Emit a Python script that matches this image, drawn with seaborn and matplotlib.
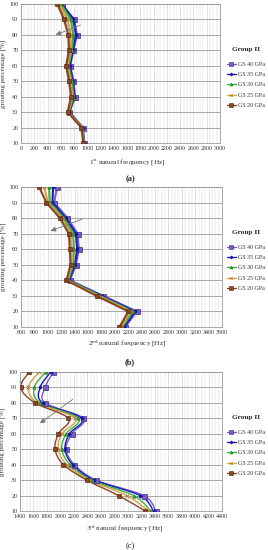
import numpy as np
import pandas as pd
import matplotlib
matplotlib.use("Agg")
import matplotlib.pyplot as plt
import seaborn as sns
from matplotlib.lines import Line2D
from matplotlib.path import Path
from matplotlib.patches import PathPatch

# ---------------- data ----------------
grouting = [100, 90, 80, 70, 60, 50, 40, 30, 20, 10]
series_names = ["GS 40 GPa", "GS 35 GPa", "GS 30 GPa", "GS 25 GPa", "GS 20 GPa"]

f1_gs40 = [614, 800, 840, 790, 740, 790, 815, 730, 930, 955]
f1_gs35 = [610, 790, 830, 780, 735, 780, 805, 725, 928, 952]
f1_gs30 = [600, 750, 790, 765, 715, 765, 790, 718, 922, 948]
f1_gs25 = [575, 700, 750, 745, 700, 745, 772, 710, 916, 944]
f1_gs20 = [548, 650, 714, 724, 680, 724, 755, 704, 910, 940]

f2_gs40 = [1139, 1094, 1294, 1444, 1464, 1419, 1329, 1828, 2327, 2153]
f2_gs35 = [1079, 1069, 1269, 1419, 1439, 1404, 1314, 1803, 2302, 2138]
f2_gs30 = [1019, 1029, 1239, 1379, 1389, 1379, 1304, 1778, 2267, 2113]
f2_gs25 = [944, 1004, 1209, 1344, 1354, 1354, 1289, 1753, 2237, 2088]
f2_gs20 = [870, 979, 1179, 1314, 1329, 1339, 1279, 1728, 2202, 2068]

f3_gs40 = [1896, 1772, 1772, 2342, 2169, 2084, 2208, 2531, 3235, 3418]
f3_gs35 = [1856, 1698, 1737, 2317, 2134, 2069, 2183, 2506, 3185, 3384]
f3_gs30 = [1782, 1613, 1698, 2268, 2084, 2020, 2144, 2466, 3086, 3344]
f3_gs25 = [1683, 1524, 1658, 2218, 2020, 1970, 2094, 2431, 2987, 3309]
f3_gs20 = [1534, 1410, 1623, 2119, 1970, 1921, 2045, 2392, 2863, 3260]

x_ticks_a = list(range(0, 3001, 200))
x_ticks_b = list(range(600, 3601, 200))
x_ticks_c = list(range(1400, 4401, 200))
y_ticks = [10, 20, 30, 40, 50, 60, 70, 80, 90, 100]

# ---------------- style ----------------
sns.set_theme(style="white")
plt.rcParams["font.family"] = ["Liberation Serif", "DejaVu Serif"]
plt.rcParams["mathtext.fontset"] = "custom"
plt.rcParams["mathtext.rm"] = "Liberation Serif"
plt.rcParams["mathtext.it"] = "Liberation Serif:italic"

colors = {"GS 40 GPa": "#7A5CC0", "GS 35 GPa": "#1A1AC8", "GS 30 GPa": "#3DB33D",
          "GS 25 GPa": "#D4A248", "GS 20 GPa": "#8A4526"}
markers = {"GS 40 GPa": "s", "GS 35 GPa": "D", "GS 30 GPa": "^",
           "GS 25 GPa": "x", "GS 20 GPa": "s"}
msizes = {"GS 40 GPa": 3.6, "GS 35 GPa": 1.8, "GS 30 GPa": 2.4,
          "GS 25 GPa": 2.2, "GS 20 GPa": 2.6}
medge = {"GS 40 GPa": "#3C2A80", "GS 35 GPa": "#0A0A90", "GS 30 GPa": "#1E7A1E",
         "GS 25 GPa": "#A07020", "GS 20 GPa": "#5A2A10"}


def make_df(vals):
    rows = []
    for name, v in zip(series_names, vals):
        for g, f in zip(grouting, v):
            rows.append({"series": name, "freq": f, "pct": g})
    return pd.DataFrame(rows)


df_a = make_df([f1_gs40, f1_gs35, f1_gs30, f1_gs25, f1_gs20])
df_b = make_df([f2_gs40, f2_gs35, f2_gs30, f2_gs25, f2_gs20])
df_c = make_df([f3_gs40, f3_gs35, f3_gs30, f3_gs25, f3_gs20])

W, H = 268, 550
fig = plt.figure(figsize=(W / 100, H / 100), dpi=100)


def ax_at(x0, x1, y0, y1):
    return fig.add_axes([x0 / W, 1 - y1 / H, (x1 - x0) / W, (y1 - y0) / H])


def smooth_path(xs, ys):
    pts = np.column_stack([xs, ys]).astype(float)
    n = len(pts)
    verts = [pts[0]]
    codes = [Path.MOVETO]
    for i in range(n - 1):
        p0 = pts[i - 1] if i > 0 else pts[i]
        p1 = pts[i]
        p2 = pts[i + 1]
        p3 = pts[i + 2] if i + 2 < n else pts[i + 1]
        c1 = p1 + (p2 - p0) / 6.0
        c2 = p2 - (p3 - p1) / 6.0
        verts += [c1, c2, p2]
        codes += [Path.CURVE4] * 3
    return Path(verts, codes)


def style_axes(ax, xmin, xmax, xticks):
    ax.set_xlim(xmin, xmax)
    ax.set_ylim(10, 100)
    ax.set_xticks(xticks)
    ax.set_xticks(np.arange(xmin, xmax + 1, 50), minor=True)
    ax.set_yticks(y_ticks)
    ax.grid(True, which="major", axis="y", color="#9a9a9a", lw=0.6)
    ax.grid(True, which="major", axis="x", color="#c8c8c8", lw=0.4)
    ax.grid(True, which="minor", axis="x", color="#d8d8d8", lw=0.35)
    ax.set_axisbelow(True)
    ax.tick_params(axis="both", which="both", length=0, labelsize=4.3, pad=2, colors="#333333")
    for s in ax.spines.values():
        s.set_color("#9a9a9a")
        s.set_linewidth(0.6)
    ax.set_xlabel("")
    ax.set_ylabel("grouting percentage [%]", fontsize=5, color="#333333", labelpad=2)


def draw_lines(ax, df, lw, smooth=False):
    for name in series_names:
        d = df[df["series"] == name]
        if smooth:
            ax.add_patch(PathPatch(smooth_path(d["freq"].values, d["pct"].values),
                                   fill=False, edgecolor=colors[name], lw=lw, zorder=2))
            sns.lineplot(data=d, x="freq", y="pct", sort=False, estimator=None, ax=ax,
                         color=colors[name], linestyle="", marker=markers[name],
                         markersize=msizes[name], markeredgecolor=medge[name],
                         markeredgewidth=0.5, zorder=3)
        else:
            sns.lineplot(data=d, x="freq", y="pct", sort=False, estimator=None, ax=ax,
                         color=colors[name], lw=lw, marker=markers[name],
                         markersize=msizes[name], markeredgecolor=medge[name],
                         markeredgewidth=0.5, zorder=3)


def add_legend(ax, top_px):
    handles = [Line2D([0], [0], color=colors[n], lw=1.0, marker=markers[n],
                      markersize=msizes[n] * 0.9, markeredgecolor=medge[n],
                      markeredgewidth=0.4) for n in series_names]
    leg = ax.legend(handles, series_names, title="Group II", loc="upper left",
                    bbox_to_anchor=(227 / W, 1 - top_px / H), bbox_transform=fig.transFigure,
                    frameon=False, fontsize=4.3, handlelength=1.5, handletextpad=0.3,
                    labelspacing=0.85, borderpad=0, borderaxespad=0,
                    title_fontproperties={"weight": "bold", "size": 5.2})
    leg._legend_box.sep = 7
    for t in leg.get_texts():
        t.set_color("#333333")


def add_arrow(ax, tail, head):
    ax.annotate("", xy=head, xytext=tail,
                arrowprops=dict(arrowstyle="-|>,head_length=0.25,head_width=0.12",
                                color="#777777", lw=0.6), zorder=4)


# ----- panel (a) -----
ax_a = ax_at(21, 220, 4, 143)
draw_lines(ax_a, df_a, lw=1.6)
style_axes(ax_a, 0, 3000, x_ticks_a)
add_arrow(ax_a, (935, 87.0), (482, 79.3))
add_legend(ax_a, 47)
fig.text(127 / W, 1 - 162 / H, r"1$^{\rm st}$ natural frequency [Hz]", ha="center",
         va="center", fontsize=5.2, color="#333333")
fig.text(130 / W, 1 - 179 / H, "(a)", ha="center", va="center", fontsize=6,
         fontweight="bold", color="#222222")

# ----- panel (b) -----
ax_b = ax_at(21, 222, 187, 327)
draw_lines(ax_b, df_b, lw=1.5)
style_axes(ax_b, 600, 3600, x_ticks_b)
add_arrow(ax_b, (1555, 80.1), (1003, 71.1))
add_legend(ax_b, 230)
fig.text(127 / W, 1 - 344 / H, r"2$^{\rm nd}$ natural frequency [Hz]", ha="center",
         va="center", fontsize=5.2, color="#333333")
fig.text(130 / W, 1 - 362 / H, "(b)", ha="center", va="center", fontsize=6,
         fontweight="bold", color="#222222")

# ----- panel (c) -----
ax_c = ax_at(20, 222, 372, 511)
draw_lines(ax_c, df_c, lw=1.0, smooth=True)
style_axes(ax_c, 1400, 4400, x_ticks_c)
add_arrow(ax_c, (2217, 83.4), (1663, 65.7))
add_legend(ax_c, 415)
fig.text(125 / W, 1 - 529 / H, r"3$^{\rm rd}$ natural frequency [Hz]", ha="center",
         va="center", fontsize=5.2, color="#333333")
fig.text(130 / W, 1 - 546 / H, "(c)", ha="center", va="center", fontsize=6,
         color="#222222")

fig.savefig("out.png", dpi=100)
